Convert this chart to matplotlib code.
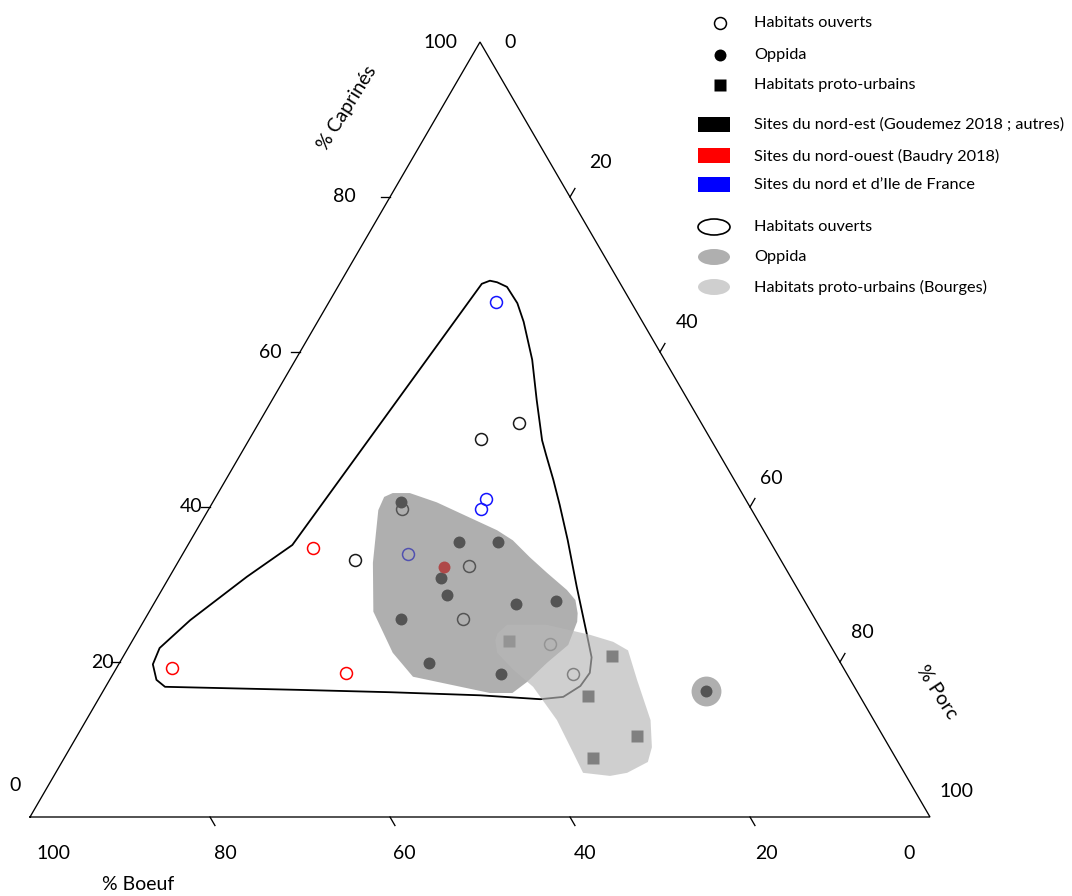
import numpy as np
import matplotlib
matplotlib.use("Agg")
import matplotlib.pyplot as plt
from matplotlib.patches import Polygon, Rectangle, Ellipse

plt.rcParams['font.family'] = ['Lato', 'DejaVu Sans']

# ---------------- data : (% Boeuf, % Caprinés, % Porc) ----------------
# Habitats ouverts
ouv_ne_B = [25.5, 20.3, 47.3, 38.8, 35.0, 39.1, 31.1, 30.5]
ouv_ne_C = [48.8, 50.8, 33.2, 39.8, 32.4, 25.5, 22.3, 18.4]
ouv_ne_P = [25.7, 28.9, 19.5, 21.4, 32.6, 35.4, 46.6, 51.1]

ouv_no_B = [51.2, 74.6, 55.6]
ouv_no_C = [34.7, 19.2, 18.6]
ouv_no_P = [14.1, 6.2, 25.8]

ouv_nidf_B = [15.0, 28.8, 30.0, 41.1]
ouv_nidf_C = [66.5, 41.0, 39.8, 33.9]
ouv_nidf_P = [18.5, 30.2, 30.2, 25.0]

# Oppida
opp_ne_B = [38.4, 34.6, 30.3, 38.9, 39.4, 32.2, 27.6, 46.0, 45.7, 38.5, 16.7]
opp_ne_C = [40.7, 35.5, 35.5, 30.9, 28.6, 27.5, 27.9, 25.5, 19.9, 18.4, 16.3]
opp_ne_P = [20.9, 30.0, 34.2, 30.2, 32.0, 40.3, 44.5, 28.5, 34.4, 43.1, 67.0]

opp_no_B = [37.9]
opp_no_C = [32.2]
opp_no_P = [29.9]

# Habitats proto-urbains (Bourges)
pro_ne_B = [35.4, 24.9, 30.2, 27.4, 33.6]
pro_ne_C = [22.7, 20.8, 15.6, 10.4, 7.6]
pro_ne_P = [41.9, 54.3, 54.2, 62.2, 58.8]

# isolated oppidum enclosed by its own small envelope
opp_iso_C = [16.3]
opp_iso_P = [67.0]

# envelopes : (% Caprinés, % Porc) vertices
hull_ouv_C = [68.8, 69.2, 69.0, 68.4, 66.3, 63.9, 59.0, 53.8, 48.6, 46.7, 43.5, 40.3,
              35.7, 29.7, 23.7, 20.6, 18.6, 16.9, 15.5, 15.2, 15.7, 16.1, 16.4, 16.8,
              17.7, 19.7, 21.8, 25.4, 31.0, 35.1]
hull_ouv_P = [15.8, 16.5, 17.4, 18.8, 21.0, 22.9, 26.3, 29.4, 32.6, 34.0, 36.4, 38.7,
              41.9, 45.9, 50.0, 52.1, 52.9, 52.7, 51.5, 49.1, 42.2, 32.0, 21.8, 6.6,
              5.2, 3.8, 3.5, 5.1, 8.6, 11.6]

hull_opp_C = [41.8, 41.8, 40.6, 39.2, 37.0, 35.7, 33.5, 31.5, 29.3, 28.0, 26.3, 25.2,
              22.2, 19.9, 17.4, 16.0, 16.0, 18.1, 21.2, 26.5, 32.8, 39.6, 41.3]
hull_opp_P = [19.4, 21.3, 24.9, 28.2, 33.4, 35.8, 38.8, 41.7, 45.0, 46.6, 47.7, 48.2,
              48.7, 47.5, 46.5, 45.6, 43.1, 33.5, 29.7, 24.9, 21.7, 18.9, 18.7]

hull_pro_C = [23.7, 24.8, 24.8, 23.5, 22.6, 21.5, 17.7, 12.5, 9.0, 7.1, 5.7, 5.3,
              5.7, 8.3, 12.5, 16.8, 19.0, 21.2, 22.8]
hull_pro_P = [40.1, 40.6, 45.0, 50.5, 53.5, 55.7, 58.6, 62.7, 64.6, 65.1, 63.5, 61.8,
              58.6, 56.2, 52.3, 47.5, 44.2, 41.3, 40.3]

tick_values = [0, 20, 40, 60, 80, 100]
axis_titles = ["% Boeuf", "% Caprinés", "% Porc"]

legend_points = ["Habitats ouverts", "Oppida", "Habitats proto-urbains"]
legend_regions = ["Sites du nord-est (Goudemez 2018 ; autres)",
                  "Sites du nord-ouest (Baudry 2018)",
                  "Sites du nord et d\u2019Ile de France"]
legend_hulls = ["Habitats ouverts", "Oppida", "Habitats proto-urbains (Bourges)"]

# ---------------- styles ----------------
COL_NE = "#1a1a1a"
COL_NO = "#ff0000"
COL_NIDF = "#1414ff"
OPP_FILL = "#7b7b7b"
OPP_ALPHA = 0.6
PRO_FILL = "#b7b7b7"
PRO_ALPHA = 0.655


def tern(C, P):
    C = np.asarray(C, float)
    P = np.asarray(P, float)
    return P + C / 2.0, C


def tern3(B, C, P):
    B, C, P = (np.asarray(v, float) for v in (B, C, P))
    s = B + C + P
    return tern(100 * C / s, 100 * P / s)


W, H = 1072, 896
fig = plt.figure(figsize=(W / 100, H / 100), dpi=100)
fig.patch.set_facecolor("white")
# triangle axes : x (0..100) -> px 30..930, y (0..100) -> px 817..42
ax = fig.add_axes([30 / W, (H - 817) / H, 900 / W, 775 / H])
ax.set_xlim(0, 100)
ax.set_ylim(0, 100)
ax.axis("off")

# triangle frame
tx, ty = tern([0, 100, 0, 0], [0, 0, 100, 0])
ax.plot(tx, ty, color="black", lw=0.95, zorder=1, clip_on=False,
        solid_joinstyle="miter")

# ticks
for v in tick_values[1:-1]:
    # Caprinés (left edge) : horizontal tick outward
    x0, y0 = tern(v, 0)
    ax.plot([x0, x0 - 1.0], [y0, y0], color="black", lw=0.95, clip_on=False)
    # Boeuf (bottom edge) : parallel to right edge, outward
    x0, y0 = tern(0, 100 - v)
    ax.plot([x0, x0 + 0.55], [y0, y0 - 1.1], color="black", lw=0.95, clip_on=False)
    # Porc (right edge) : parallel to left edge, outward
    x0, y0 = tern(100 - v, v)
    ax.plot([x0, x0 + 0.55], [y0, y0 + 1.1], color="black", lw=0.95, clip_on=False)

k = 0.72  # px -> pt
lab_fs = 14
cap_off = {100: (-40, 0), 80: (-46, 0), 60: (-30, 0), 40: (-19, 0), 20: (-18, 0), 0: (-15, 32)}
por_off = {0: (30, 0), 20: (30, 34), 40: (27, 29), 60: (21, 29), 80: (22, 29), 100: (26, 26)}
boe_off = {100: (23, -36), 80: (15, -36), 60: (14, -36), 40: (15, -36), 20: (16, -36), 0: (-21, -36)}
for v in tick_values:
    x0, y0 = tern(v, 0)
    dx, dy = cap_off[v]
    ax.annotate(str(v), (x0, y0), xytext=(dx * k, dy * k), textcoords="offset points",
                ha="center", va="center", fontsize=lab_fs, annotation_clip=False)
    x0, y0 = tern(100 - v, v)
    dx, dy = por_off[v]
    ax.annotate(str(v), (x0, y0), xytext=(dx * k, dy * k), textcoords="offset points",
                ha="center", va="center", fontsize=lab_fs, annotation_clip=False)
    x0, y0 = tern(0, 100 - v)
    dx, dy = boe_off[v]
    ax.annotate(str(v), (x0, y0), xytext=(dx * k, dy * k), textcoords="offset points",
                ha="center", va="center", fontsize=lab_fs, annotation_clip=False)

# axis titles (figure pixel positions)
fig.text(138 / W, 1 - 884 / H, axis_titles[0], fontsize=lab_fs, ha="center", va="center")
fig.text(347 / W, 1 - 108 / H, axis_titles[1], fontsize=lab_fs, ha="center", va="center",
         rotation=58, rotation_mode="anchor")
fig.text(937 / W, 1 - 692 / H, axis_titles[2], fontsize=lab_fs, ha="center", va="center",
         rotation=-57, rotation_mode="anchor")

# open-habitat envelope (outline)
hx, hy = tern(hull_ouv_C, hull_ouv_P)
ax.add_patch(Polygon(np.column_stack([hx, hy]), closed=True, fill=False,
                     edgecolor="black", lw=1.3, zorder=2, joinstyle="round"))

ms = 8.6
mew = 1.1
# open circles
for B, C, P, col in [(ouv_ne_B, ouv_ne_C, ouv_ne_P, COL_NE),
                     (ouv_no_B, ouv_no_C, ouv_no_P, COL_NO),
                     (ouv_nidf_B, ouv_nidf_C, ouv_nidf_P, COL_NIDF)]:
    x, y = tern3(B, C, P)
    ax.plot(x, y, "o", ms=ms, mfc="none", mec=col, mew=mew, zorder=3)
# filled circles
for B, C, P, col in [(opp_ne_B, opp_ne_C, opp_ne_P, COL_NE),
                     (opp_no_B, opp_no_C, opp_no_P, COL_NO)]:
    x, y = tern3(B, C, P)
    ax.plot(x, y, "o", ms=ms, mfc=col, mec="none", zorder=3.2)
# squares
x, y = tern3(pro_ne_B, pro_ne_C, pro_ne_P)
ax.plot(x, y, "s", ms=ms, mfc=COL_NE, mec="none", zorder=3.2)

# oppida envelope (translucent overlay)
hx, hy = tern(hull_opp_C, hull_opp_P)
ax.add_patch(Polygon(np.column_stack([hx, hy]), closed=True, facecolor=OPP_FILL,
                     alpha=OPP_ALPHA, edgecolor="none", zorder=4))
x, y = tern(opp_iso_C, opp_iso_P)
ax.plot(x, y, "o", ms=21.5, mfc=OPP_FILL, mec="none", alpha=OPP_ALPHA, zorder=4)

# proto-urban envelope
hx, hy = tern(hull_pro_C, hull_pro_P)
ax.add_patch(Polygon(np.column_stack([hx, hy]), closed=True, facecolor=PRO_FILL,
                     alpha=PRO_ALPHA, edgecolor="none", zorder=5))

# ---------------- legend (pixel coordinates) ----------------
lg = fig.add_axes([0, 0, 1, 1], facecolor="none")
lg.set_xlim(0, W)
lg.set_ylim(H, 0)
lg.axis("off")
leg_fs = 11.7
tx0 = 754
rows_pts = [23, 55, 85]
lg.plot([720], [rows_pts[0]], "o", ms=ms, mfc="none", mec="black", mew=mew)
lg.plot([720], [rows_pts[1]], "o", ms=ms, mfc="black", mec="none")
lg.plot([720], [rows_pts[2]], "s", ms=ms, mfc="black", mec="none")
for yy, t in zip(rows_pts, legend_points):
    lg.text(tx0, yy, t, fontsize=leg_fs, va="center", ha="left")

rows_reg = [125, 156, 185]
for yy, t, col in zip(rows_reg, legend_regions, ["black", "#ff0000", "#0000ff"]):
    lg.add_patch(Rectangle((698, yy - 7.5), 32, 15, facecolor=col, edgecolor="none"))
    lg.text(tx0, yy, t, fontsize=leg_fs, va="center", ha="left")

rows_hull = [227, 257, 287]
lg.add_patch(Ellipse((714, rows_hull[0]), 32, 16, facecolor="white", edgecolor="black", lw=1.2))
lg.add_patch(Ellipse((714, rows_hull[1]), 32, 16, facecolor=OPP_FILL, alpha=OPP_ALPHA,
                     edgecolor="none"))
lg.add_patch(Ellipse((714, rows_hull[2]), 32, 16, facecolor=PRO_FILL, alpha=PRO_ALPHA,
                     edgecolor="none"))
for yy, t in zip(rows_hull, legend_hulls):
    lg.text(tx0, yy, t, fontsize=leg_fs, va="center", ha="left")

fig.savefig("out.png", dpi=100, facecolor="white")
